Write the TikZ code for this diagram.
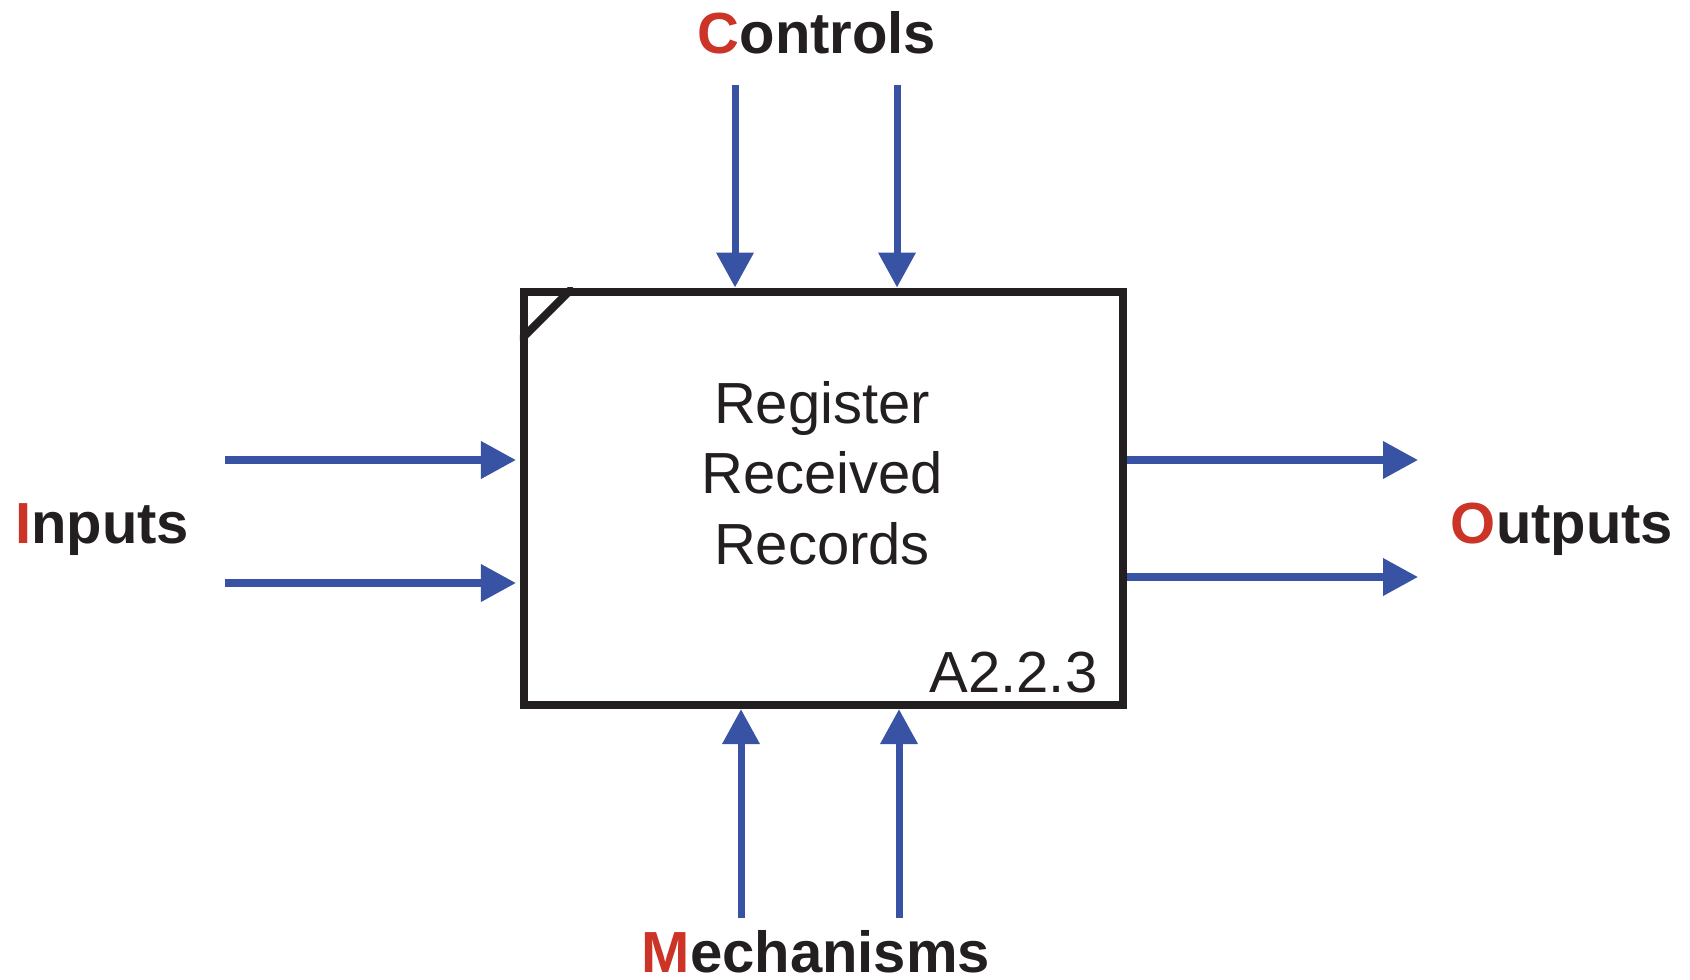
\documentclass[tikz,border=0pt]{standalone}
\usepackage{fontspec}
\setmainfont{Liberation Sans}
\usepackage{tikz}
\usetikzlibrary{positioning, arrows.meta}
\definecolor{icomblue}{RGB}{56,83,164}
\definecolor{icomred}{RGB}{203,52,39}
\definecolor{icomblack}{RGB}{35,31,32}
\tikzset{
flow/.style={draw=icomblue, line width=2pt, -{Triangle[length=0.35cm, width=0.36cm]}}, % the blue arrows into and out of the box
funcbox/.style={draw=icomblack, line width=2.3pt, inner sep=0pt, minimum width=5.99cm, minimum height=4.135cm}, % the activity box
boxtext/.style={text=icomblack, font=\fontsize{16.5}{20}\selectfont, align=center}, % text inside the box
icom/.style={text=icomblack, font=\bfseries\fontsize{16.5}{20}\selectfont, inner sep=0pt, anchor=base}, % the four side labels
}

\begin{document}
\begin{tikzpicture}
                \useasboundingbox (0,0) rectangle (16.9,-9.79);
                \node[funcbox] (func) at (8.235,-4.983) {};
                \begin{scope}
                    \clip (func.north west) rectangle (func.south east);
                    \draw[icomblack, line width=2.3pt]
                        ([xshift=0.53cm]func.north west) -- ([yshift=-0.53cm]func.north west);
                \end{scope}
                \node[boxtext] (title) at (8.22,-4.73) {Register\\Received\\Records};
                \node[boxtext, inner sep=0pt, anchor=base east] (nodeid)
                    at ([shift={(-0.29,0.17)}]func.south east) {A2.2.3};
                % labels
                \node[icom] (inputs) at (1.02,-5.43) {\textcolor{icomred}{I}nputs};
                \node[icom] (outputs) at (15.62,-5.43) {\textcolor{icomred}{O}utputs};
                \node[icom] (controls) at (8.17,-0.54) {\textcolor{icomred}{C}ontrols};
                \node[icom] (mechanisms) at (8.16,-9.72) {\textcolor{icomred}{M}echanisms};
                % arrow ends
                \coordinate (in1) at (2.25,-4.60);
                \coordinate (in2) at (2.25,-5.83);
                \coordinate (out1) at (14.18,-4.60);
                \coordinate (out2) at (14.18,-5.77);
                \coordinate (ctl1) at (7.35,-0.85);
                \coordinate (ctl2) at (8.97,-0.85);
                \coordinate (mech1) at (7.41,-9.18);
                \coordinate (mech2) at (8.99,-9.18);
                \draw[flow, shorten >=0.04cm] (in1) -- (in1 -| func.west);
                \draw[flow, shorten >=0.04cm] (in2) -- (in2 -| func.west);
                \draw[flow] (out1 -| func.east) -- (out1);
                \draw[flow] (out2 -| func.east) -- (out2);
                \draw[flow] (ctl1) -- (ctl1 |- func.north);
                \draw[flow] (ctl2) -- (ctl2 |- func.north);
                \draw[flow] (mech1) -- (mech1 |- func.south);
                \draw[flow] (mech2) -- (mech2 |- func.south);
\end{tikzpicture}
\end{document}
